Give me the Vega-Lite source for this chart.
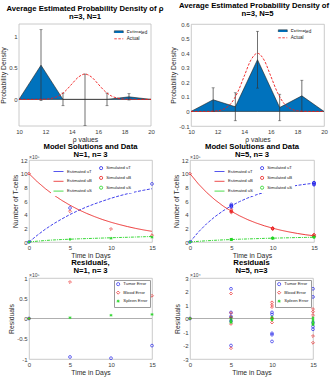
{
 "$schema": "https://vega.github.io/schema/vega-lite/v6.json",
 "background": "white",
 "padding": {"left": 0, "top": 1, "right": 0, "bottom": 0},
 "config": {
  "font": "Liberation Sans",
  "view": {"stroke": "#bdbdbd", "strokeWidth": 0.8},
  "axis": {"grid": false, "ticks": false, "domain": false, "labelFont": "Liberation Sans", "labelFontSize": 6, "labelColor": "#3c3c3c", "labelPadding": 2, "titleFont": "Liberation Sans", "titleFontSize": 6.8, "titleFontWeight": "normal", "titleColor": "#2a2a2a", "titlePadding": 2, "labelFlush": false, "labelOverlap": false, "labelBound": false, "tickCount": 30},
  "title": {"font": "Liberation Sans", "fontSize": 7.7, "fontWeight": "bold", "color": "#000000", "offset": 3, "lineHeight": 8.3, "anchor": "middle", "frame": "group"},
  "legend": {"labelFont": "Liberation Sans", "labelColor": "#222222", "fillColor": "white", "padding": 1.5, "rowPadding": 1, "symbolStrokeWidth": 0.8, "labelOffset": 3}
 },
 "datasets": {
  "tl_est": [{"rho":10,"d":0,"series":"Estimated"},{"rho":11.667,"d":0.54,"series":"Estimated"},{"rho":13.333,"d":0,"series":"Estimated"},{"rho":15,"d":0,"series":"Estimated"},{"rho":16.667,"d":0,"series":"Estimated"},{"rho":18.333,"d":0.04,"series":"Estimated"},{"rho":20,"d":0,"series":"Estimated"}],
  "tl_err": [{"rho":11.667,"lo":-0.02,"hi":1.1},{"rho":13.333,"lo":-0.1,"hi":0.1},{"rho":15,"lo":-0.41,"hi":0.4},{"rho":16.667,"lo":-0.1,"hi":0.1},{"rho":18.333,"lo":-0.01,"hi":0.09}],
  "tr_est": [{"rho":10,"d":0,"series":"Estimated"},{"rho":11.667,"d":0.08,"series":"Estimated"},{"rho":13.333,"d":0.032,"series":"Estimated"},{"rho":15,"d":0.355,"series":"Estimated"},{"rho":16.667,"d":0.027,"series":"Estimated"},{"rho":18.333,"d":0.107,"series":"Estimated"},{"rho":20,"d":0,"series":"Estimated"}],
  "tr_err": [{"rho":11.667,"lo":0,"hi":0.162},{"rho":13.333,"lo":-0.064,"hi":0.128},{"rho":15,"lo":0.16,"hi":0.55},{"rho":16.667,"lo":-0.064,"hi":0.118},{"rho":18.333,"lo":0,"hi":0.214}],
  "actual": [{"rho":10,"d":0,"series":"Actual"},{"rho":11,"d":0,"series":"Actual"},{"rho":11.5,"d":0.001,"series":"Actual"},{"rho":12,"d":0.004,"series":"Actual"},{"rho":12.5,"d":0.018,"series":"Actual"},{"rho":13,"d":0.054,"series":"Actual"},{"rho":13.5,"d":0.13,"series":"Actual"},{"rho":14,"d":0.242,"series":"Actual"},{"rho":14.5,"d":0.352,"series":"Actual"},{"rho":15,"d":0.399,"series":"Actual"},{"rho":15.5,"d":0.352,"series":"Actual"},{"rho":16,"d":0.242,"series":"Actual"},{"rho":16.5,"d":0.13,"series":"Actual"},{"rho":17,"d":0.054,"series":"Actual"},{"rho":17.5,"d":0.018,"series":"Actual"},{"rho":18,"d":0.004,"series":"Actual"},{"rho":18.5,"d":0.001,"series":"Actual"},{"rho":19,"d":0,"series":"Actual"},{"rho":20,"d":0,"series":"Actual"}],
  "m1_line": [
   {"t":0,"Estimated uT":0,"Estimated uB":10,"Estimated uS":0},
   {"t":1,"Estimated uT":0.98,"Estimated uB":8.83,"Estimated uS":0.12},
   {"t":2,"Estimated uT":1.88,"Estimated uB":7.8,"Estimated uS":0.22},
   {"t":3,"Estimated uT":2.67,"Estimated uB":6.89,"Estimated uS":0.3},
   {"t":4,"Estimated uT":3.37,"Estimated uB":6.09,"Estimated uS":0.36},
   {"t":5,"Estimated uT":4.03,"Estimated uB":5.38,"Estimated uS":0.41},
   {"t":6,"Estimated uT":4.6,"Estimated uB":4.75,"Estimated uS":0.46},
   {"t":7,"Estimated uT":5.12,"Estimated uB":4.2,"Estimated uS":0.5},
   {"t":8,"Estimated uT":5.58,"Estimated uB":3.71,"Estimated uS":0.54},
   {"t":9,"Estimated uT":6.0,"Estimated uB":3.27,"Estimated uS":0.58},
   {"t":10,"Estimated uT":6.4,"Estimated uB":2.89,"Estimated uS":0.62},
   {"t":11,"Estimated uT":6.75,"Estimated uB":2.56,"Estimated uS":0.66},
   {"t":12,"Estimated uT":7.06,"Estimated uB":2.26,"Estimated uS":0.69},
   {"t":13,"Estimated uT":7.34,"Estimated uB":1.99,"Estimated uS":0.73},
   {"t":14,"Estimated uT":7.58,"Estimated uB":1.76,"Estimated uS":0.77},
   {"t":15,"Estimated uT":7.8,"Estimated uB":1.56,"Estimated uS":0.8}
  ],
  "m1_sim": [
   {"t":0,"Simulated uT":0,"Simulated uB":10,"Simulated uS":0},
   {"t":5,"Simulated uT":4.98,"Simulated uB":4.5,"Simulated uS":0.39},
   {"t":10,"Simulated uT":7.6,"Simulated uB":1.9,"Simulated uS":0.54},
   {"t":15,"Simulated uT":8.5,"Simulated uB":1.0,"Simulated uS":0.7}
  ],
  "m5_line": [
   {"t":0,"Estimated uT":0,"Estimated uB":10,"Estimated uS":0},
   {"t":1,"Estimated uT":1.44,"Estimated uB":8.52,"Estimated uS":0.1},
   {"t":2,"Estimated uT":2.66,"Estimated uB":7.26,"Estimated uS":0.18},
   {"t":3,"Estimated uT":3.69,"Estimated uB":6.19,"Estimated uS":0.25},
   {"t":4,"Estimated uT":4.56,"Estimated uB":5.27,"Estimated uS":0.31},
   {"t":5,"Estimated uT":5.3,"Estimated uB":4.49,"Estimated uS":0.36},
   {"t":6,"Estimated uT":5.92,"Estimated uB":3.83,"Estimated uS":0.41},
   {"t":7,"Estimated uT":6.45,"Estimated uB":3.26,"Estimated uS":0.45},
   {"t":8,"Estimated uT":6.9,"Estimated uB":2.78,"Estimated uS":0.49},
   {"t":9,"Estimated uT":7.27,"Estimated uB":2.37,"Estimated uS":0.53},
   {"t":10,"Estimated uT":7.6,"Estimated uB":2.02,"Estimated uS":0.56},
   {"t":11,"Estimated uT":7.87,"Estimated uB":1.72,"Estimated uS":0.59},
   {"t":12,"Estimated uT":8.1,"Estimated uB":1.47,"Estimated uS":0.62},
   {"t":13,"Estimated uT":8.29,"Estimated uB":1.25,"Estimated uS":0.65},
   {"t":14,"Estimated uT":8.46,"Estimated uB":1.06,"Estimated uS":0.67},
   {"t":15,"Estimated uT":8.6,"Estimated uB":0.91,"Estimated uS":0.7}
  ],
  "m5_sim": [
   {"t":0,"Simulated uT":0,"Simulated uB":10,"Simulated uS":0},
   {"t":5,"Simulated uT":5.08,"Simulated uB":4.31,"Simulated uS":0.35},
   {"t":5,"Simulated uT":5.26,"Simulated uB":4.45,"Simulated uS":0.36},
   {"t":5,"Simulated uT":5.29,"Simulated uB":4.48,"Simulated uS":0.37},
   {"t":5,"Simulated uT":5.32,"Simulated uB":4.53,"Simulated uS":0.38},
   {"t":5,"Simulated uT":5.5,"Simulated uB":4.71,"Simulated uS":0.39},
   {"t":10,"Simulated uT":7.56,"Simulated uB":1.9,"Simulated uS":0.55},
   {"t":10,"Simulated uT":7.57,"Simulated uB":1.92,"Simulated uS":0.555},
   {"t":10,"Simulated uT":7.71,"Simulated uB":1.94,"Simulated uS":0.56},
   {"t":10,"Simulated uT":7.72,"Simulated uB":2.02,"Simulated uS":0.565},
   {"t":10,"Simulated uT":7.77,"Simulated uB":2.05,"Simulated uS":0.57},
   {"t":15,"Simulated uT":8.38,"Simulated uB":0.84,"Simulated uS":0.7},
   {"t":15,"Simulated uT":8.44,"Simulated uB":0.86,"Simulated uS":0.71},
   {"t":15,"Simulated uT":8.63,"Simulated uB":0.89,"Simulated uS":0.73},
   {"t":15,"Simulated uT":8.66,"Simulated uB":1.04,"Simulated uS":0.74},
   {"t":15,"Simulated uT":8.68,"Simulated uB":1.09,"Simulated uS":0.75}
  ],
  "r1": [
   {"t":0,"Tumor Error":0,"Blood Error":0,"Spleen Error":0},
   {"t":5,"Tumor Error":-0.95,"Blood Error":0.9,"Spleen Error":0.02},
   {"t":10,"Tumor Error":-0.98,"Blood Error":null,"Spleen Error":0.08},
   {"t":15,"Tumor Error":-0.67,"Blood Error":0.56,"Spleen Error":0.1}
  ],
  "r5": [
   {"t":0,"Tumor Error":0,"Blood Error":0,"Spleen Error":0},
   {"t":5,"Tumor Error":2.2,"Blood Error":1.85,"Spleen Error":0.1},
   {"t":5,"Tumor Error":0.45,"Blood Error":0.4,"Spleen Error":0},
   {"t":5,"Tumor Error":0.15,"Blood Error":0.1,"Spleen Error":-0.1},
   {"t":5,"Tumor Error":-0.2,"Blood Error":-0.4,"Spleen Error":-0.2},
   {"t":5,"Tumor Error":-2.0,"Blood Error":-2.2,"Spleen Error":-0.3},
   {"t":10,"Tumor Error":0.45,"Blood Error":1.2,"Spleen Error":0.1},
   {"t":10,"Tumor Error":0.3,"Blood Error":1.0,"Spleen Error":0.05},
   {"t":10,"Tumor Error":-1.1,"Blood Error":0.85,"Spleen Error":0},
   {"t":10,"Tumor Error":-1.2,"Blood Error":0,"Spleen Error":-0.05},
   {"t":10,"Tumor Error":-1.7,"Blood Error":-0.3,"Spleen Error":-0.1},
   {"t":15,"Tumor Error":2.2,"Blood Error":0.7,"Spleen Error":0.05},
   {"t":15,"Tumor Error":1.6,"Blood Error":0.5,"Spleen Error":-0.1},
   {"t":15,"Tumor Error":-0.3,"Blood Error":0.25,"Spleen Error":-0.25},
   {"t":15,"Tumor Error":-0.6,"Blood Error":-1.3,"Spleen Error":-0.4},
   {"t":15,"Tumor Error":-0.8,"Blood Error":-1.8,"Spleen Error":-0.45}
  ]
 },
 "resolve": {"scale": {"color": "independent", "shape": "independent", "strokeDash": "independent"}},
 "spacing": -2,
 "vconcat": [
  {
   "hconcat": [
    {
     "width": 122, "height": 102,
     "view": {"stroke": null},
     "title": {"text": ["Average Estimated Probability Density of ρ", "n=3, N=1"], "dx": -5},
     "layer": [
      {"data": {"values": [{}]}, "mark": {"type": "rect", "filled": false, "stroke": "#bdbdbd", "strokeWidth": 0.8},
       "encoding": {
        "x": {"datum": 10, "type": "quantitative", "scale": {"domain": [10, 20], "range": [-10, 122], "nice": false, "zero": false}, "axis": {"values": [10,12,14,16,18,20], "tickCount": 30, "format": "~g", "title": "ρ values", "labelOverlap": false}},
        "x2": {"datum": 20},
        "y": {"datum": -0.42, "type": "quantitative", "scale": {"domain": [-0.42, 1.19], "nice": false, "zero": false}, "axis": {"offset": 10, "values": [0, 0.5, 1], "tickCount": 30, "format": "~g", "title": "Probability Density", "labelOverlap": false}},
        "y2": {"datum": 1.19}}},
      {"data": {"name": "tl_est"}, "mark": {"type": "area", "stroke": "#1e1e1e", "strokeWidth": 0.6, "opacity": 1},
       "encoding": {
        "x": {"field": "rho", "type": "quantitative"},
        "y": {"field": "d", "type": "quantitative"},
        "color": {"field": "series", "type": "nominal", "scale": {"domain": ["Estimated"], "range": ["#0072BD"]},
         "legend": {"title": null, "orient": "none", "legendX": 84, "legendY": 3, "padding": 0.8, "labelFontSize": 4.6, "symbolType": "M-1,-0.45L1,-0.45L1,0.45L-1,0.45Z", "symbolSize": 80, "symbolStrokeColor": "#1e1e1e", "symbolStrokeWidth": 0.5, "symbolOpacity": 1}}}},
      {"data": {"name": "tl_err"}, "mark": {"type": "rule", "color": "#333333", "strokeWidth": 0.7},
       "encoding": {"x": {"field": "rho", "type": "quantitative"}, "y": {"field": "lo", "type": "quantitative"}, "y2": {"field": "hi"}}},
      {"data": {"name": "tl_err"}, "mark": {"type": "tick", "orient": "horizontal", "color": "#333333", "size": 3, "thickness": 0.7},
       "encoding": {"x": {"field": "rho", "type": "quantitative"}, "y": {"field": "lo", "type": "quantitative"}}},
      {"data": {"name": "tl_err"}, "mark": {"type": "tick", "orient": "horizontal", "color": "#333333", "size": 3, "thickness": 0.7},
       "encoding": {"x": {"field": "rho", "type": "quantitative"}, "y": {"field": "hi", "type": "quantitative"}}},
      {"data": {"name": "actual"}, "mark": {"type": "line", "color": "#f01818", "strokeWidth": 0.9, "interpolate": "monotone"},
       "encoding": {"x": {"field": "rho", "type": "quantitative"}, "y": {"field": "d", "type": "quantitative"},
        "strokeDash": {"field": "series", "type": "nominal", "scale": {"domain": ["Actual"], "range": [[2.5, 1.5]]},
         "legend": {"title": null, "orient": "none", "legendX": 84, "legendY": 9, "padding": 0.8, "labelFontSize": 4.6, "symbolType": "stroke", "symbolSize": 80, "symbolStrokeColor": "#f01818"}}}}
     ]
    },
    {
     "width": 133, "height": 102,
     "title": {"text": ["Average Estimated Probability Density of ρ", "n=3, N=5"]},
     "layer": [
      {"data": {"name": "tr_est"}, "mark": {"type": "area", "stroke": "#1e1e1e", "strokeWidth": 0.6, "opacity": 1},
       "encoding": {
        "x": {"field": "rho", "type": "quantitative", "scale": {"domain": [10, 20], "nice": false, "zero": false}, "axis": {"values": [10,12,14,16,18,20], "tickCount": 30, "format": "~g", "title": "ρ values", "labelOverlap": false}},
        "y": {"field": "d", "type": "quantitative", "scale": {"domain": [-0.1, 0.6], "nice": false, "zero": false}, "axis": {"values": [-0.1, 0, 0.1, 0.2, 0.3, 0.4, 0.5, 0.6], "tickCount": 30, "format": "~g", "labelExpr": "replace(datum.label, '−', '-')", "title": "Probability Density", "labelOverlap": false}},
        "color": {"field": "series", "type": "nominal", "scale": {"domain": ["Estimated"], "range": ["#0072BD"]},
         "legend": {"title": null, "orient": "none", "legendX": 86, "legendY": 2, "padding": 0.8, "labelFontSize": 4.6, "symbolType": "M-1,-0.45L1,-0.45L1,0.45L-1,0.45Z", "symbolSize": 80, "symbolStrokeColor": "#1e1e1e", "symbolStrokeWidth": 0.5, "symbolOpacity": 1}}}},
      {"data": {"name": "tr_err"}, "mark": {"type": "rule", "color": "#333333", "strokeWidth": 0.7},
       "encoding": {"x": {"field": "rho", "type": "quantitative"}, "y": {"field": "lo", "type": "quantitative"}, "y2": {"field": "hi"}}},
      {"data": {"name": "tr_err"}, "mark": {"type": "tick", "orient": "horizontal", "color": "#333333", "size": 3, "thickness": 0.7},
       "encoding": {"x": {"field": "rho", "type": "quantitative"}, "y": {"field": "lo", "type": "quantitative"}}},
      {"data": {"name": "tr_err"}, "mark": {"type": "tick", "orient": "horizontal", "color": "#333333", "size": 3, "thickness": 0.7},
       "encoding": {"x": {"field": "rho", "type": "quantitative"}, "y": {"field": "hi", "type": "quantitative"}}},
      {"data": {"name": "actual"}, "mark": {"type": "line", "color": "#f01818", "strokeWidth": 0.9, "interpolate": "monotone"},
       "encoding": {"x": {"field": "rho", "type": "quantitative"}, "y": {"field": "d", "type": "quantitative"},
        "strokeDash": {"field": "series", "type": "nominal", "scale": {"domain": ["Actual"], "range": [[2.5, 1.5]]},
         "legend": {"title": null, "orient": "none", "legendX": 86, "legendY": 8, "padding": 0.8, "labelFontSize": 4.6, "symbolType": "stroke", "symbolSize": 80, "symbolStrokeColor": "#f01818"}}}}
     ]
    }
   ],
   "spacing": 40, "bounds": "flush",
   "resolve": {"scale": {"color": "independent", "shape": "independent", "strokeDash": "independent"}}
  },
  {
   "hconcat": [
    {
     "width": 123, "height": 82,
     "title": {"text": ["Model Solutions and Data", "N=1, n= 3"], "offset": -4.5},
     "resolve": {"scale": {"color": "independent"}},
     "layer": [
      {"data": {"name": "m1_line"}, "transform": [{"fold": ["Estimated uT", "Estimated uB", "Estimated uS"], "as": ["series", "v"]}],
       "mark": {"type": "line", "strokeWidth": 0.9},
       "encoding": {
        "x": {"field": "t", "type": "quantitative", "scale": {"domain": [0, 15], "nice": false, "zero": false}, "axis": {"values": [0, 5, 10, 15], "tickCount": 30, "format": "~g", "title": "Time in Days", "labelOverlap": false}},
        "y": {"field": "v", "type": "quantitative", "scale": {"domain": [0, 12], "nice": false}, "axis": {"values": [0, 2, 4, 6, 8, 10, 12], "tickCount": 30, "format": "~g", "title": "Number of T-cells", "labelOverlap": false}},
        "color": {"field": "series", "type": "nominal", "scale": {"domain": ["Estimated uT", "Estimated uB", "Estimated uS"], "range": ["#2b2bea", "#ea2020", "#22d422"]},
         "legend": {"title": null, "orient": "none", "legendX": 22, "legendY": 4, "labelFontSize": 4.2, "rowPadding": 1.8, "padding": 2, "symbolType": "stroke", "symbolSize": 100}},
        "strokeDash": {"field": "series", "type": "nominal", "scale": {"domain": ["Estimated uT", "Estimated uB", "Estimated uS"], "range": [[3, 1.5], [1, 0], [3, 1, 1, 1]]},
         "legend": {"title": null, "orient": "none", "legendX": 22, "legendY": 4, "labelFontSize": 4.2, "rowPadding": 1.8, "padding": 2, "symbolType": "stroke", "symbolSize": 100}}}},
      {"data": {"name": "m1_sim"}, "transform": [{"fold": ["Simulated uT", "Simulated uB", "Simulated uS"], "as": ["series", "v"]}],
       "mark": {"type": "point", "filled": false, "size": 8, "strokeWidth": 0.7, "opacity": 1},
       "encoding": {
        "x": {"field": "t", "type": "quantitative"},
        "y": {"field": "v", "type": "quantitative"},
        "color": {"field": "series", "type": "nominal", "scale": {"domain": ["Simulated uT", "Simulated uB", "Simulated uS"], "range": ["#2b2bea", "#ea2020", "#22d422"]},
         "legend": {"title": null, "orient": "none", "legendX": 68, "legendY": 4, "labelFontSize": 4.2, "rowPadding": 1.8, "padding": 2, "symbolSize": 10}},
        "shape": {"field": "series", "type": "nominal", "scale": {"domain": ["Simulated uT", "Simulated uB", "Simulated uS"], "range": ["circle", "diamond", "M-1,0L1,0M0,-1L0,1M-0.7,-0.7L0.7,0.7M-0.7,0.7L0.7,-0.7"]},
         "legend": {"title": null, "orient": "none", "legendX": 68, "legendY": 4, "labelFontSize": 4.2, "rowPadding": 1.8, "padding": 2, "symbolSize": 10}}}},
      {"data": {"values": [{}]}, "mark": {"type": "text", "align": "left", "baseline": "bottom", "fontSize": 5, "dy": -0.5, "color": "#444444"},
       "encoding": {"x": {"datum": 0, "type": "quantitative"}, "y": {"datum": 12, "type": "quantitative"}, "text": {"value": "×10⁵"}}}
     ]
    },
    {
     "width": 124, "height": 82,
     "title": {"text": ["Model Solutions and Data", "N=5, n= 3"], "offset": -4.5},
     "resolve": {"scale": {"color": "independent"}},
     "layer": [
      {"data": {"name": "m5_line"}, "transform": [{"fold": ["Estimated uT", "Estimated uB", "Estimated uS"], "as": ["series", "v"]}],
       "mark": {"type": "line", "strokeWidth": 0.9},
       "encoding": {
        "x": {"field": "t", "type": "quantitative", "scale": {"domain": [0, 15], "nice": false, "zero": false}, "axis": {"values": [0, 5, 10, 15], "tickCount": 30, "format": "~g", "title": "Time in Days", "labelOverlap": false}},
        "y": {"field": "v", "type": "quantitative", "scale": {"domain": [0, 12], "nice": false}, "axis": {"values": [0, 2, 4, 6, 8, 10, 12], "tickCount": 30, "format": "~g", "title": "Number of T-cells", "labelOverlap": false}},
        "color": {"field": "series", "type": "nominal", "scale": {"domain": ["Estimated uT", "Estimated uB", "Estimated uS"], "range": ["#2b2bea", "#ea2020", "#22d422"]},
         "legend": {"title": null, "orient": "none", "legendX": 22, "legendY": 4, "labelFontSize": 4.2, "rowPadding": 1.8, "padding": 2, "symbolType": "stroke", "symbolSize": 100}},
        "strokeDash": {"field": "series", "type": "nominal", "scale": {"domain": ["Estimated uT", "Estimated uB", "Estimated uS"], "range": [[3, 1.5], [1, 0], [3, 1, 1, 1]]},
         "legend": {"title": null, "orient": "none", "legendX": 22, "legendY": 4, "labelFontSize": 4.2, "rowPadding": 1.8, "padding": 2, "symbolType": "stroke", "symbolSize": 100}}}},
      {"data": {"name": "m5_sim"}, "transform": [{"fold": ["Simulated uT", "Simulated uB", "Simulated uS"], "as": ["series", "v"]}],
       "mark": {"type": "point", "filled": false, "size": 8, "strokeWidth": 0.7, "opacity": 1},
       "encoding": {
        "x": {"field": "t", "type": "quantitative"},
        "y": {"field": "v", "type": "quantitative"},
        "color": {"field": "series", "type": "nominal", "scale": {"domain": ["Simulated uT", "Simulated uB", "Simulated uS"], "range": ["#2b2bea", "#ea2020", "#22d422"]},
         "legend": {"title": null, "orient": "none", "legendX": 68, "legendY": 4, "labelFontSize": 4.2, "rowPadding": 1.8, "padding": 2, "symbolSize": 10}},
        "shape": {"field": "series", "type": "nominal", "scale": {"domain": ["Simulated uT", "Simulated uB", "Simulated uS"], "range": ["circle", "diamond", "M-1,0L1,0M0,-1L0,1M-0.7,-0.7L0.7,0.7M-0.7,0.7L0.7,-0.7"]},
         "legend": {"title": null, "orient": "none", "legendX": 68, "legendY": 4, "labelFontSize": 4.2, "rowPadding": 1.8, "padding": 2, "symbolSize": 10}}}},
      {"data": {"values": [{}]}, "mark": {"type": "text", "align": "left", "baseline": "bottom", "fontSize": 5, "dy": -0.5, "color": "#444444"},
       "encoding": {"x": {"datum": 0, "type": "quantitative"}, "y": {"datum": 12, "type": "quantitative"}, "text": {"value": "×10⁵"}}}
     ]
    }
   ],
   "spacing": 38, "bounds": "flush",
   "resolve": {"scale": {"color": "independent", "shape": "independent", "strokeDash": "independent"}}
  },
  {
   "hconcat": [
    {
     "width": 123, "height": 81,
     "title": {"text": ["Residuals,", "N=1, n= 3"], "offset": -2},
     "layer": [
      {"data": {"values": [{}]}, "mark": {"type": "rule", "color": "#9a9a9a", "strokeWidth": 0.8},
       "encoding": {"y": {"datum": 0, "type": "quantitative"}}},
      {"data": {"name": "r1"}, "transform": [{"fold": ["Tumor Error", "Blood Error", "Spleen Error"], "as": ["series", "r"]}],
       "mark": {"type": "point", "filled": false, "size": 8, "strokeWidth": 0.7, "opacity": 1},
       "encoding": {
        "x": {"field": "t", "type": "quantitative", "scale": {"domain": [0, 15], "nice": false, "zero": false}, "axis": {"values": [0, 5, 10, 15], "tickCount": 30, "format": "~g", "title": "Time in Days", "labelOverlap": false}},
        "y": {"field": "r", "type": "quantitative", "scale": {"domain": [-1, 1], "nice": false}, "axis": {"values": [-1, -0.5, 0, 0.5, 1], "tickCount": 30, "format": "~g", "labelExpr": "replace(datum.label, '−', '-')", "title": "Residuals", "labelOverlap": false}},
        "color": {"field": "series", "type": "nominal", "scale": {"domain": ["Tumor Error", "Blood Error", "Spleen Error"], "range": ["#2b2bea", "#ea2020", "#22d422"]},
         "legend": {"title": null, "orient": "top-right", "offset": 2, "labelFontSize": 4.3, "rowPadding": 1.5, "padding": 2, "symbolSize": 10, "symbolStrokeWidth": 0.7, "strokeColor": "#9a9a9a"}},
        "shape": {"field": "series", "type": "nominal", "scale": {"domain": ["Tumor Error", "Blood Error", "Spleen Error"], "range": ["circle", "diamond", "M-1,0L1,0M0,-1L0,1M-0.7,-0.7L0.7,0.7M-0.7,0.7L0.7,-0.7"]},
         "legend": {"title": null, "orient": "top-right", "offset": 2, "labelFontSize": 4.3, "rowPadding": 1.5, "padding": 2, "symbolSize": 10, "symbolStrokeWidth": 0.7, "strokeColor": "#9a9a9a"}}}},
      {"data": {"values": [{}]}, "mark": {"type": "text", "align": "left", "baseline": "bottom", "fontSize": 5, "dy": -0.5, "color": "#444444"},
       "encoding": {"x": {"datum": 0, "type": "quantitative"}, "y": {"datum": 1, "type": "quantitative"}, "text": {"value": "×10⁵"}}}
     ]
    },
    {
     "width": 123, "height": 81,
     "title": {"text": ["Residuals", "N=5, n=3"], "offset": -2},
     "layer": [
      {"data": {"values": [{}]}, "mark": {"type": "rule", "color": "#9a9a9a", "strokeWidth": 0.8},
       "encoding": {"y": {"datum": 0, "type": "quantitative"}}},
      {"data": {"name": "r5"}, "transform": [{"fold": ["Tumor Error", "Blood Error", "Spleen Error"], "as": ["series", "r"]}],
       "mark": {"type": "point", "filled": false, "size": 8, "strokeWidth": 0.7, "opacity": 1},
       "encoding": {
        "x": {"field": "t", "type": "quantitative", "scale": {"domain": [0, 15], "nice": false, "zero": false}, "axis": {"values": [0, 5, 10, 15], "tickCount": 30, "format": "~g", "title": "Time in Days", "labelOverlap": false}},
        "y": {"field": "r", "type": "quantitative", "scale": {"domain": [-3, 3], "nice": false}, "axis": {"values": [-3, -2, -1, 0, 1, 2, 3], "tickCount": 30, "format": "~g", "labelExpr": "replace(datum.label, '−', '-')", "title": "Residuals", "labelOverlap": false}},
        "color": {"field": "series", "type": "nominal", "scale": {"domain": ["Tumor Error", "Blood Error", "Spleen Error"], "range": ["#2b2bea", "#ea2020", "#22d422"]},
         "legend": {"title": null, "orient": "top-right", "offset": 2, "labelFontSize": 4.3, "rowPadding": 1.5, "padding": 2, "symbolSize": 10, "symbolStrokeWidth": 0.7, "strokeColor": "#9a9a9a"}},
        "shape": {"field": "series", "type": "nominal", "scale": {"domain": ["Tumor Error", "Blood Error", "Spleen Error"], "range": ["circle", "diamond", "M-1,0L1,0M0,-1L0,1M-0.7,-0.7L0.7,0.7M-0.7,0.7L0.7,-0.7"]},
         "legend": {"title": null, "orient": "top-right", "offset": 2, "labelFontSize": 4.3, "rowPadding": 1.5, "padding": 2, "symbolSize": 10, "symbolStrokeWidth": 0.7, "strokeColor": "#9a9a9a"}}}},
      {"data": {"values": [{}]}, "mark": {"type": "text", "align": "left", "baseline": "bottom", "fontSize": 5, "dy": -0.5, "color": "#444444"},
       "encoding": {"x": {"datum": 0, "type": "quantitative"}, "y": {"datum": 3, "type": "quantitative"}, "text": {"value": "×10⁴"}}}
     ]
    }
   ],
   "spacing": 38, "bounds": "flush",
   "resolve": {"scale": {"color": "independent", "shape": "independent", "strokeDash": "independent"}}
  }
 ]
}
